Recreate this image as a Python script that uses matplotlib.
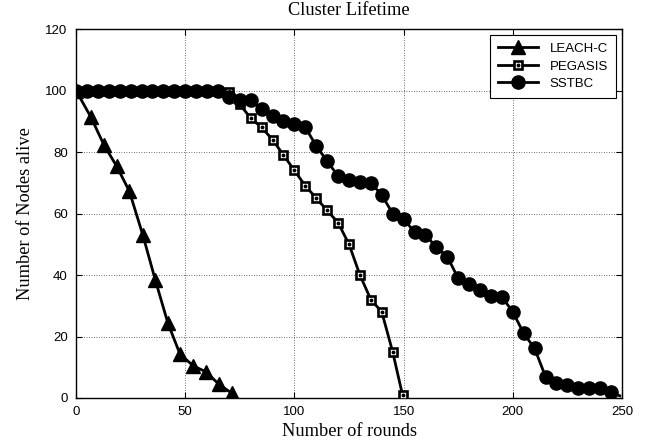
import matplotlib
matplotlib.use("Agg")
import matplotlib.pyplot as plt
from matplotlib.legend_handler import HandlerTuple

# ---- data ----
leach_x = [0, 6.7, 12.8, 18.6, 24.4, 30.6, 36.3, 42.1, 47.6, 53.6, 59.5, 65.4, 71.4]
leach_y = [100, 91.5, 82.3, 75.4, 67.3, 53, 38.4, 24.3, 14.3, 10.5, 8.5, 4.5, 1.5]

pegasis_x = [0, 5, 10, 15, 20, 25, 30, 35, 40, 45, 50, 55, 60, 65,
             70, 75, 80, 85, 90, 95, 100, 105, 110, 115, 120, 125, 130,
             135, 140, 145, 149.5]
pegasis_y = [100, 100, 100, 100, 100, 100, 100, 100, 100, 100, 100, 100, 100, 100,
             99.5, 95.5, 91, 88, 84, 79, 74, 69, 65, 61, 57, 50, 40,
             32, 28, 15, 1]

sstbc_x = [0, 5, 10, 15, 20, 25, 30, 35, 40, 45, 50, 55, 60, 65,
           70, 75, 80, 85, 90, 95, 100, 105, 110, 115, 120, 125, 130, 135,
           140, 145, 150, 155, 160, 165, 170, 175, 180, 185, 190, 195,
           200, 205, 210, 215, 220, 225, 230, 235, 240, 245, 249]
sstbc_y = [100, 100, 100, 100, 100, 100, 100, 100, 100, 100, 100, 100, 100, 100,
           97.8, 96.9, 96.9, 93.9, 91.8, 90.1, 89.1, 88, 82, 77, 72.2, 71, 70.2, 70,
           66, 60, 58.2, 54, 53.1, 49, 46, 38.9, 37.1, 35.1, 33.2, 32.9,
           28, 21, 16.1, 6.9, 5, 4.2, 3.1, 3.1, 3.1, 2, 0.7]

series_names = ["LEACH-C", "PEGASIS", "SSTBC"]
x_ticks = [0, 50, 100, 150, 200, 250]
y_ticks = [0, 20, 40, 60, 80, 100, 120]

# ---- figure ----
fig = plt.figure(figsize=(6.58, 4.44), dpi=100)
ax = fig.add_axes([76/658, 1-398/444, (622-76)/658, (398-29)/444])

sans = ["Liberation Sans", "DejaVu Sans"]
serif = ["Liberation Serif", "DejaVu Serif"]

l1, = ax.plot(leach_x, leach_y, color="black", lw=2, marker="^", ms=9.5,
              mfc="black", mec="black", zorder=3, label=series_names[0])
l2, = ax.plot(pegasis_x, pegasis_y, color="black", lw=2, marker="s", ms=6.4,
              mfc="white", mec="black", mew=1.9, zorder=4, label=series_names[1])
l2d, = ax.plot(pegasis_x, pegasis_y, linestyle="none", marker="o", ms=1.8,
               mfc="black", mec="black", zorder=4.5)
l3, = ax.plot(sstbc_x, sstbc_y, color="black", lw=2, marker="o", ms=9.5,
              mfc="black", mec="black", zorder=5, label=series_names[2],
              markevery=list(range(len(sstbc_x) - 1)))

ax.set_xlim(0, 250)
ax.set_ylim(0, 120)
ax.set_xticks(x_ticks)
ax.set_yticks(y_ticks)
ax.set_xticklabels([str(t) for t in x_ticks], family=sans, fontsize=9.5)
ax.set_yticklabels([str(t) for t in y_ticks], family=sans, fontsize=9.5)
ax.tick_params(direction="in", top=True, right=True, length=4, width=0.8, pad=6)
ax.grid(True, linestyle=(0, (1, 2)), color="black", lw=0.6, alpha=0.75)
for s in ax.spines.values():
    s.set_linewidth(1.0)

ax.set_title("Cluster Lifetime", family=serif, fontsize=13.2, pad=10)
ax.set_xlabel("Number of rounds", family=serif, fontsize=13.2, labelpad=3)
ax.set_ylabel("Number of Nodes alive", family=serif, fontsize=13.2, labelpad=8)

leg = ax.legend([l1, (l2, l2d), l3], series_names, loc="upper right",
                handler_map={tuple: HandlerTuple(ndivide=1, pad=0)},
                prop={"family": sans, "size": 9.5}, frameon=True, fancybox=False,
                edgecolor="black", framealpha=1, borderaxespad=0.45,
                handlelength=3.0, handletextpad=0.9, borderpad=0.6,
                labelspacing=0.4)
leg.get_frame().set_linewidth(0.8)

fig.savefig("out.png", dpi=100)
